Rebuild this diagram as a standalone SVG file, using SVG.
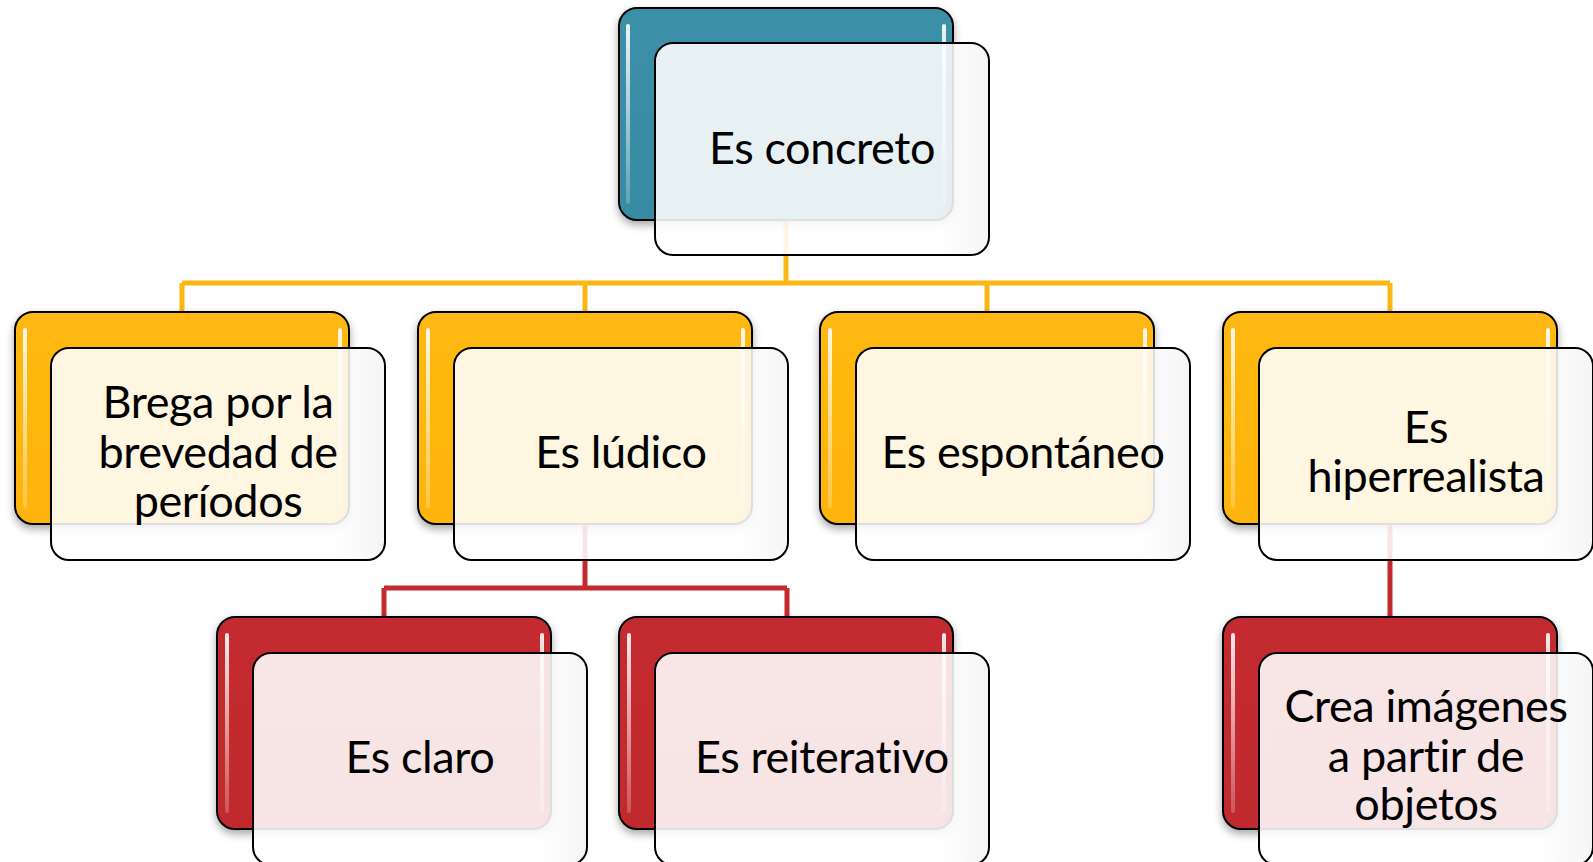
<svg xmlns="http://www.w3.org/2000/svg" width="1593" height="862" viewBox="0 0 1593 862">
<style>
.back{stroke:#000;stroke-width:2}
.teal{fill:url(#gTeal)}
.yel{fill:url(#gYel)}
.red{fill:url(#gRed)}
.front{fill:url(#gFront);fill-opacity:0.88;stroke:#000;stroke-width:2}
.hl{fill:url(#gHl)}
.lbl{font-family:Lato,"Liberation Sans",sans-serif;font-size:45px;letter-spacing:-0.4px;fill:#000;text-anchor:middle}
.cy{stroke:#FDB714;stroke-width:5;fill:none}
.cr{stroke:#C4292E;stroke-width:5;fill:none}
</style>
<defs>
<linearGradient id="gTeal" x1="0" y1="0" x2="0" y2="1"><stop offset="0" stop-color="#3B90A7"/><stop offset="1" stop-color="#388BA2"/></linearGradient>
<linearGradient id="gYel" x1="0" y1="0" x2="0" y2="1"><stop offset="0" stop-color="#FFB812"/><stop offset="1" stop-color="#FDB50E"/></linearGradient>
<linearGradient id="gRed" x1="0" y1="0" x2="0" y2="1"><stop offset="0" stop-color="#C42B30"/><stop offset="1" stop-color="#C0292E"/></linearGradient>
<linearGradient id="gFront" x1="0" y1="0" x2="1" y2="0"><stop offset="0" stop-color="#FFFFFF"/><stop offset="0.85" stop-color="#FFFFFF"/><stop offset="1" stop-color="#F3F3F3"/></linearGradient>
<linearGradient id="gHl" x1="0" y1="0" x2="0" y2="1"><stop offset="0" stop-color="#fff" stop-opacity="0.9"/><stop offset="0.5" stop-color="#fff" stop-opacity="0.55"/><stop offset="1" stop-color="#fff" stop-opacity="0.2"/></linearGradient>
<filter id="sh" x="-10%" y="-10%" width="120%" height="125%"><feDropShadow dx="0" dy="4" stdDeviation="4" flood-color="#000" flood-opacity="0.35"/></filter>
</defs>

<g id="connectors">
<path class="cy" d="M786 220V283M182 283H1390M182 283V312M585 283V312M987 283V312M1390 283V312"/>
<path class="cr" d="M585 524V588M384 588H787M384 588V617M787 588V617M1390 524V617"/>
</g>

<g id="n-concreto">
<rect class="back teal" x="619" y="8" width="334" height="212" rx="18" filter="url(#sh)"/>
<rect class="hl" x="626" y="24" width="4" height="180" rx="2"/>
<rect class="hl" x="942" y="24" width="4" height="180" rx="2"/>
<rect class="front" x="655" y="43" width="334" height="212" rx="18"/>
<text class="lbl" x="822" y="164">Es concreto</text>
</g>

<g id="n-brega">
<rect class="back yel" x="15" y="312" width="334" height="212" rx="18" filter="url(#sh)"/>
<rect class="hl" x="23" y="328" width="4" height="180" rx="2"/>
<rect class="hl" x="338" y="328" width="4" height="180" rx="2"/>
<rect class="front" x="51" y="348" width="334" height="212" rx="18"/>
<text class="lbl" x="218" y="418">Brega por la</text>
<text class="lbl" x="218" y="468">brevedad de</text>
<text class="lbl" x="218" y="517">períodos</text>
</g>

<g id="n-ludico">
<rect class="back yel" x="418" y="312" width="334" height="212" rx="18" filter="url(#sh)"/>
<rect class="hl" x="426" y="328" width="4" height="180" rx="2"/>
<rect class="hl" x="741" y="328" width="4" height="180" rx="2"/>
<rect class="front" x="454" y="348" width="334" height="212" rx="18"/>
<text class="lbl" x="621" y="468">Es lúdico</text>
</g>

<g id="n-espontaneo">
<rect class="back yel" x="820" y="312" width="334" height="212" rx="18" filter="url(#sh)"/>
<rect class="hl" x="828" y="328" width="4" height="180" rx="2"/>
<rect class="hl" x="1143" y="328" width="4" height="180" rx="2"/>
<rect class="front" x="856" y="348" width="334" height="212" rx="18"/>
<text class="lbl" x="1023" y="468">Es espontáneo</text>
</g>

<g id="n-hiperrealista">
<rect class="back yel" x="1223" y="312" width="334" height="212" rx="18" filter="url(#sh)"/>
<rect class="hl" x="1231" y="328" width="4" height="180" rx="2"/>
<rect class="hl" x="1546" y="328" width="4" height="180" rx="2"/>
<rect class="front" x="1259" y="348" width="334" height="212" rx="18"/>
<text class="lbl" x="1426" y="443">Es</text>
<text class="lbl" x="1426" y="492">hiperrealista</text>
</g>

<g id="n-claro">
<rect class="back red" x="217" y="617" width="334" height="212" rx="18" filter="url(#sh)"/>
<rect class="hl" x="225" y="633" width="4" height="180" rx="2"/>
<rect class="hl" x="540" y="633" width="4" height="180" rx="2"/>
<rect class="front" x="253" y="653" width="334" height="212" rx="18"/>
<text class="lbl" x="420" y="773">Es claro</text>
</g>

<g id="n-reiterativo">
<rect class="back red" x="619" y="617" width="334" height="212" rx="18" filter="url(#sh)"/>
<rect class="hl" x="627" y="633" width="4" height="180" rx="2"/>
<rect class="hl" x="942" y="633" width="4" height="180" rx="2"/>
<rect class="front" x="655" y="653" width="334" height="212" rx="18"/>
<text class="lbl" x="822" y="773">Es reiterativo</text>
</g>

<g id="n-crea">
<rect class="back red" x="1223" y="617" width="334" height="212" rx="18" filter="url(#sh)"/>
<rect class="hl" x="1231" y="633" width="4" height="180" rx="2"/>
<rect class="hl" x="1546" y="633" width="4" height="180" rx="2"/>
<rect class="front" x="1259" y="653" width="334" height="212" rx="18"/>
<text class="lbl" x="1426" y="722">Crea imágenes</text>
<text class="lbl" x="1426" y="772">a partir de</text>
<text class="lbl" x="1426" y="820">objetos</text>
</g>
</svg>
